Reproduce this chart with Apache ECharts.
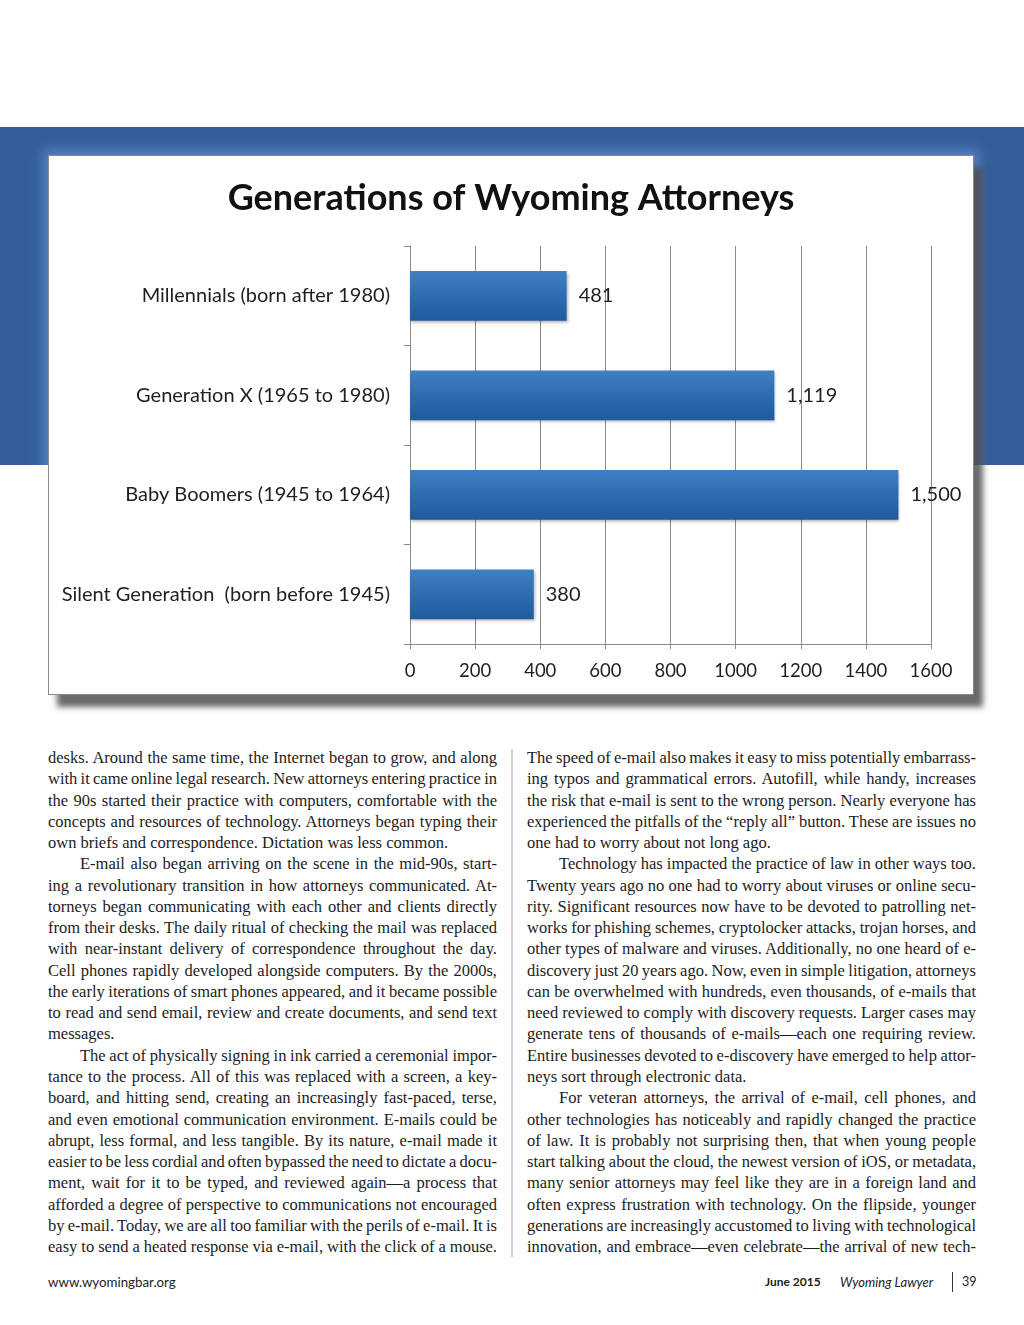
<!DOCTYPE html>
<html>
<head>
<meta charset="utf-8">
<script src="https://cdn.jsdelivr.net/npm/echarts@6/dist/echarts.min.js"></script>
<style>
  html, body { margin: 0; padding: 0; background: #fff; }
  body { width: 1024px; height: 1325px; position: relative; overflow: hidden; }
  #band { position: absolute; left: 0; top: 127px; width: 1024px; height: 338px; background: #355d9a; overflow: hidden; }
  #glow { position: absolute; left: 48px; top: 28px; width: 926px; height: 540px; box-shadow: 0 0 12px 5px rgba(95,145,215,0.75); }
  #chartbox { position: absolute; left: 48px; top: 155px; width: 924px; height: 538px; background: #fff;
    border: 1px solid #8a8a8a; box-shadow: 9px 12px 6px rgba(80,80,80,0.85); }
  #chart { width: 924px; height: 538px; }
  .col { position: absolute; top: 747px; width: 449px; font-family: "Liberation Serif", serif; font-size: 16.5px; color: #1c1c1c; }
  .ln { height: 21.27px; line-height: 21.27px; white-space: nowrap; }
  .ln.ind { padding-left: 32px; }
  #divider { position: absolute; left: 511px; top: 749px; width: 2px; height: 508px; background: #cdd3e2; }
  .foot { position: absolute; top: 1274px; font-family: Lato, "Open Sans", sans-serif; font-size: 12.5px; color: #222; }
</style>
</head>
<body>
<div id="band"><div id="glow"></div></div>
<div id="chartbox"><div id="chart"></div></div>

<div class="col" id="left" style="left:48px"></div>
<div id="divider"></div>
<div class="col" id="right" style="left:527px"></div>

<div class="foot" style="left:48px;font-size:13.3px">www.wyomingbar.org</div>
<div class="foot" style="left:765px;font-weight:bold;font-size:12px">June 2015</div>
<div class="foot" style="left:840px;font-style:italic;font-size:13px">Wyoming Lawyer</div>
<div style="position:absolute;left:952px;top:1272px;width:1px;height:20px;background:#333"></div>
<div class="foot" style="left:962px">39</div>

<script>
// ---- chart data ----
const categories = [
  'Millennials (born after 1980)',
  'Generation X (1965 to 1980)',
  'Baby Boomers (1945 to 1964)',
  'Silent Generation  (born before 1945)'
];
const values = [481, 1119, 1500, 380];
const chartTitle = 'Generations of Wyoming Attorneys';
const xMin = 0, xMax = 1600, xStep = 200;

// ---- article text (one entry per printed line; [text, kind]) ----
// kind: 'j' justified, 'ij' indented justified, 'e' end of paragraph
const leftLines = [
  ['desks. Around the same time, the Internet began to grow, and along','j'],
  ['with it came online legal research. New attorneys entering practice in','j'],
  ['the 90s started their practice with computers, comfortable with the','j'],
  ['concepts and resources of technology. Attorneys began typing their','j'],
  ['own briefs and correspondence. Dictation was less common.','e'],
  ['E-mail also began arriving on the scene in the mid-90s, start-','ij'],
  ['ing a revolutionary transition in how attorneys communicated. At-','j'],
  ['torneys began communicating with each other and clients directly','j'],
  ['from their desks. The daily ritual of checking the mail was replaced','j'],
  ['with near-instant delivery of correspondence throughout the day.','j'],
  ['Cell phones rapidly developed alongside computers. By the 2000s,','j'],
  ['the early iterations of smart phones appeared, and it became possible','j'],
  ['to read and send email, review and create documents, and send text','j'],
  ['messages.','e'],
  ['The act of physically signing in ink carried a ceremonial impor-','ij'],
  ['tance to the process. All of this was replaced with a screen, a key-','j'],
  ['board, and hitting send, creating an increasingly fast-paced, terse,','j'],
  ['and even emotional communication environment. E-mails could be','j'],
  ['abrupt, less formal, and less tangible. By its nature, e-mail made it','j'],
  ['easier to be less cordial and often bypassed the need to dictate a docu-','j'],
  ['ment, wait for it to be typed, and reviewed again\u2014a process that','j'],
  ['afforded a degree of perspective to communications not encouraged','j'],
  ['by e-mail. Today, we are all too familiar with the perils of e-mail. It is','j'],
  ['easy to send a heated response via e-mail, with the click of a mouse.','j']
];
const rightLines = [
  ['The speed of e-mail also makes it easy to miss potentially embarrass-','j'],
  ['ing typos and grammatical errors. Autofill, while handy, increases','j'],
  ['the risk that e-mail is sent to the wrong person. Nearly everyone has','j'],
  ['experienced the pitfalls of the \u201creply all\u201d button. These are issues no','j'],
  ['one had to worry about not long ago.','e'],
  ['Technology has impacted the practice of law in other ways too.','ij'],
  ['Twenty years ago no one had to worry about viruses or online secu-','j'],
  ['rity. Significant resources now have to be devoted to patrolling net-','j'],
  ['works for phishing schemes, cryptolocker attacks, trojan horses, and','j'],
  ['other types of malware and viruses. Additionally, no one heard of e-','j'],
  ['discovery just 20 years ago. Now, even in simple litigation, attorneys','j'],
  ['can be overwhelmed with hundreds, even thousands, of e-mails that','j'],
  ['need reviewed to comply with discovery requests. Larger cases may','j'],
  ['generate tens of thousands of e-mails\u2014each one requiring review.','j'],
  ['Entire businesses devoted to e-discovery have emerged to help attor-','j'],
  ['neys sort through electronic data.','e'],
  ['For veteran attorneys, the arrival of e-mail, cell phones, and','ij'],
  ['other technologies has noticeably and rapidly changed the practice','j'],
  ['of law. It is probably not surprising then, that when young people','j'],
  ['start talking about the cloud, the newest version of iOS, or metadata,','j'],
  ['many senior attorneys may feel like they are in a foreign land and','j'],
  ['often express frustration with technology. On the flipside, younger','j'],
  ['generations are increasingly accustomed to living with technological','j'],
  ['innovation, and embrace\u2014even celebrate\u2014the arrival of new tech-','j']
];

function buildColumn(el, lines) {
  lines.forEach(([t, k]) => {
    const d = document.createElement('div');
    d.className = 'ln' + (k === 'ij' ? ' ind' : '');
    const s = document.createElement('span');
    s.textContent = t;
    d.appendChild(s);
    d.dataset.kind = k;
    el.appendChild(d);
  });
}
function justify(el) {
  el.querySelectorAll('.ln').forEach(d => {
    if (d.dataset.kind === 'e') return;
    const s = d.firstChild;
    s.style.wordSpacing = '0px';
    const target = 449 - (d.dataset.kind === 'ij' ? 32 : 0);
    const w = s.getBoundingClientRect().width;
    const spaces = (s.textContent.match(/ /g) || []).length;
    if (spaces > 0) s.style.wordSpacing = ((target - w) / spaces) + 'px';
  });
}
buildColumn(document.getElementById('left'), leftLines);
buildColumn(document.getElementById('right'), rightLines);
function doJustify() { justify(document.getElementById('left')); justify(document.getElementById('right')); }
doJustify();
if (document.fonts && document.fonts.ready) document.fonts.ready.then(doJustify);

// ---- chart ----
const chart = echarts.init(document.getElementById('chart'), null, { renderer: 'canvas' });
const axisGray = '#8a8a8a';
chart.setOption({
  animation: false,
  title: {
    text: chartTitle, left: 'center', top: 19,
    textStyle: { fontFamily: 'Lato', fontWeight: 'bold', fontSize: 36, color: '#111' }
  },
  grid: { left: 361, top: 90, width: 521, height: 398 },
  xAxis: {
    type: 'value', min: xMin, max: xMax, interval: xStep,
    axisLine: { show: true, lineStyle: { color: axisGray, width: 1 } },
    axisTick: { show: true, length: 5, lineStyle: { color: axisGray } },
    splitLine: { show: true, lineStyle: { color: axisGray, width: 1 } },
    axisLabel: { margin: 18, fontFamily: 'Lato', fontSize: 18.5, color: '#1f1f1f', formatter: v => String(v) }
  },
  yAxis: {
    type: 'category', data: categories, inverse: true,
    axisLine: { show: true, lineStyle: { color: axisGray, width: 1 } },
    axisTick: { show: true, length: 6, lineStyle: { color: axisGray } },
    axisLabel: { margin: 20, fontFamily: 'Lato', fontSize: 20, color: '#1f1f1f' }
  },
  series: [{
    type: 'bar', data: values, barCategoryGap: '50%',
    itemStyle: {
      color: new echarts.graphic.LinearGradient(0, 0, 0, 1, [
        { offset: 0, color: '#3f80c3' },
        { offset: 0.5, color: '#2d6cb1' },
        { offset: 1, color: '#1f5b9d' }
      ]),
      shadowColor: 'rgba(0,0,0,0.3)', shadowBlur: 3, shadowOffsetY: 2, shadowOffsetX: 1
    },
    label: {
      show: true, position: 'right', distance: 12,
      fontFamily: 'Lato', fontSize: 20, color: '#1f1f1f',
      formatter: p => p.value.toLocaleString('en-US')
    }
  }]
});
</script>
</body>
</html>
